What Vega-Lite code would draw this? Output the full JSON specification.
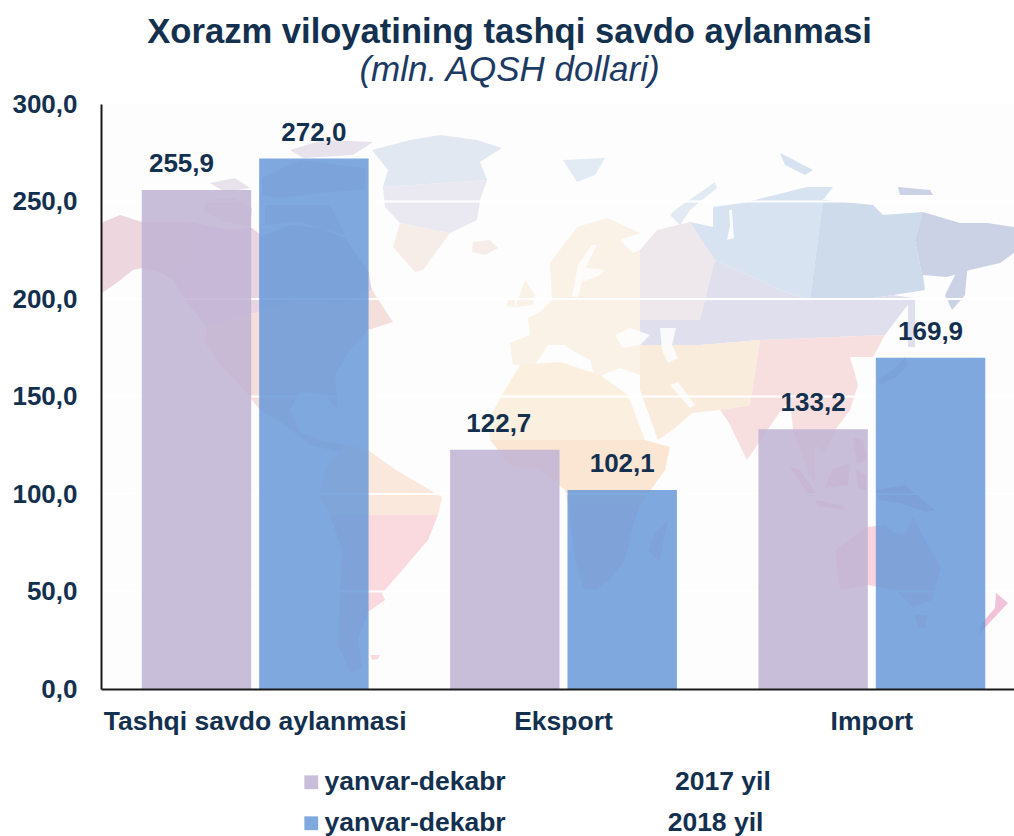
{
"$schema":"https://vega.github.io/schema/vega-lite/v6.json",
"width":913,"height":585,
"autosize":{"type":"none"},
"padding":{"left":101,"top":104,"right":0,"bottom":147},
"background":"white",
"view":{"fill":"#fdfdfd","stroke":null},
"title":{"text":"Xorazm viloyatining tashqi savdo aylanmasi","subtitle":"(mln. AQSH dollari)","anchor":"middle","dx":-48,"offset":2,"font":"Liberation Sans","fontSize":34.6,"fontWeight":"bold","color":"#14304f","subtitleFont":"Liberation Sans","subtitleFontSize":35,"subtitleFontStyle":"italic","subtitleColor":"#1c3a63","subtitlePadding":2},
"datasets":{
"rows":[
{"category":"Tashqi savdo aylanmasi","series":"2017","value":255.9,"label":"255,9"},
{"category":"Tashqi savdo aylanmasi","series":"2018","value":272.0,"label":"272,0"},
{"category":"Eksport","series":"2017","value":122.7,"label":"122,7"},
{"category":"Eksport","series":"2018","value":102.1,"label":"102,1"},
{"category":"Import","series":"2017","value":133.2,"label":"133,2"},
{"category":"Import","series":"2018","value":169.9,"label":"169,9"}
],
"grid":[{"v":50},{"v":100},{"v":150},{"v":200},{"v":250}],
"map":{"type":"FeatureCollection","features":[
{"type":"Feature","properties":{"zone":"alaska"},"geometry":{"type":"Polygon","coordinates":[[[1,477],[20,485],[42,478],[90,478],[100,440],[73,420],[60,428],[42,432],[33,430],[18,418],[2,407],[1,430],[1,477]]]}},
{"type":"Feature","properties":{"zone":"canada"},"geometry":{"type":"Polygon","coordinates":[[[90,478],[130,470],[152,472],[162,464],[190,475],[220,472],[245,462],[268,430],[272,410],[240,395],[200,400],[130,380],[107,373],[87,397],[73,420],[100,440],[90,478]]]}},
{"type":"Feature","properties":{"zone":"arctic"},"geometry":{"type":"MultiPolygon","coordinates":[[[[105,500],[135,502],[152,492],[150,474],[125,478],[104,488],[105,500]]],[[[110,517],[135,522],[150,512],[125,508],[110,517]]],[[[162,522],[200,540],[265,532],[265,510],[230,508],[180,502],[162,505],[162,522]]],[[[165,495],[230,495],[245,465],[200,478],[165,475],[165,495]]],[[[190,550],[223,560],[273,558],[253,545],[203,542],[190,550]]]]}},
{"type":"Feature","properties":{"zone":"usa"},"geometry":{"type":"Polygon","coordinates":[[[107,373],[130,380],[200,400],[240,395],[272,410],[293,378],[268,370],[250,350],[235,325],[238,290],[225,305],[200,308],[190,290],[200,268],[220,260],[245,255],[240,248],[210,255],[185,275],[160,290],[140,315],[120,335],[105,357],[107,373]]]}},
{"type":"Feature","properties":{"zone":"samN"},"geometry":{"type":"Polygon","coordinates":[[[245,255],[268,250],[296,230],[342,203],[338,185],[230,185],[220,203],[225,230],[245,255]]]}},
{"type":"Feature","properties":{"zone":"samS"},"geometry":{"type":"MultiPolygon","coordinates":[[[[230,185],[338,185],[328,160],[305,133],[282,107],[285,100],[268,88],[258,60],[262,32],[250,28],[238,55],[240,110],[242,150],[230,185]]],[[[270,45],[280,45],[278,41],[272,40],[270,45]]]]}},
{"type":"Feature","properties":{"zone":"greenTop"},"geometry":{"type":"Polygon","coordinates":[[[272,550],[310,560],[340,565],[377,560],[402,552],[380,538],[387,520],[283,513],[288,530],[272,550]]]}},
{"type":"Feature","properties":{"zone":"greenMid"},"geometry":{"type":"Polygon","coordinates":[[[283,513],[387,520],[380,500],[377,480],[350,467],[300,477],[285,493],[283,513]]]}},
{"type":"Feature","properties":{"zone":"greenLow"},"geometry":{"type":"MultiPolygon","coordinates":[[[[300,477],[350,467],[323,430],[315,428],[293,453],[300,477]]],[[[373,458],[390,460],[398,452],[385,445],[372,448],[373,458]]]]}},
{"type":"Feature","properties":{"zone":"europe"},"geometry":{"type":"MultiPolygon","coordinates":[[[[410,357],[430,365],[428,382],[440,388],[452,400],[450,437],[477,473],[507,482],[540,467],[520,460],[533,447],[540,450],[540,330],[540,325],[520,332],[495,322],[490,340],[475,348],[465,355],[448,355],[435,335],[413,335],[410,357]]],[[[425,420],[435,405],[433,395],[415,393],[420,405],[425,420]]],[[[408,402],[415,402],[415,393],[407,394],[408,402]]]]}},
{"type":"Feature","properties":{"zone":"euroRussia"},"geometry":{"type":"Polygon","coordinates":[[[540,450],[557,470],[590,478],[615,440],[600,380],[540,380],[540,450]]]}},
{"type":"Feature","properties":{"zone":"westSiberia"},"geometry":{"type":"MultiPolygon","coordinates":[[[[590,478],[613,473],[613,493],[643,497],[667,503],[707,513],[733,513],[723,500],[710,400],[680,410],[615,440],[590,478]]],[[[680,547],[690,542],[713,530],[705,525],[685,535],[680,547]]]]}},
{"type":"Feature","properties":{"zone":"eastSiberia"},"geometry":{"type":"Polygon","coordinates":[[[723,500],[773,495],[783,485],[823,488],[815,460],[825,410],[793,405],[760,400],[710,400],[723,500]]]}},
{"type":"Feature","properties":{"zone":"farEast"},"geometry":{"type":"MultiPolygon","coordinates":[[[[823,488],[860,477],[887,477],[914,473],[914,447],[900,437],[870,430],[847,423],[823,425],[825,410],[815,460],[823,488]]],[[[860,435],[868,438],[865,405],[852,390],[845,405],[860,435]]],[[[798,513],[830,510],[833,505],[800,505],[798,513]]]]}},
{"type":"Feature","properties":{"zone":"central"},"geometry":{"type":"MultiPolygon","coordinates":[[[[540,380],[600,380],[615,440],[680,410],[710,400],[760,400],[793,405],[813,402],[785,365],[660,360],[600,355],[540,355],[540,380]]],[[[808,400],[815,400],[815,353],[808,353],[808,400]]]]}},
{"type":"Feature","properties":{"zone":"isles"},"geometry":{"type":"MultiPolygon","coordinates":[[[[575,490],[615,518],[617,512],[590,490],[580,475],[570,485],[575,490]]],[[[463,540],[505,542],[495,525],[477,518],[463,540]]]]}},
{"type":"Feature","properties":{"zone":"mideast"},"geometry":{"type":"Polygon","coordinates":[[[540,355],[600,355],[660,360],[650,295],[620,290],[592,287],[575,272],[558,260],[540,310],[540,325],[540,355]]]}},
{"type":"Feature","properties":{"zone":"southAsia"},"geometry":{"type":"Polygon","coordinates":[[[660,360],[785,365],[773,343],[750,343],[758,315],[750,290],[735,270],[725,247],[715,255],[715,215],[708,230],[693,270],[690,300],[679,287],[647,240],[629,277],[620,290],[650,295],[660,360]]]}},
{"type":"Feature","properties":{"zone":"japan"},"geometry":{"type":"Polygon","coordinates":[[[805,343],[808,335],[795,322],[780,315],[778,320],[795,332],[805,343]]]}},
{"type":"Feature","properties":{"zone":"africaN"},"geometry":{"type":"Polygon","coordinates":[[[405,310],[420,335],[460,338],[500,325],[528,305],[545,260],[390,260],[388,280],[405,310]]]}},
{"type":"Feature","properties":{"zone":"africaM"},"geometry":{"type":"Polygon","coordinates":[[[390,260],[545,260],[570,253],[565,230],[540,195],[468,195],[465,210],[440,230],[410,235],[390,260]]]}},
{"type":"Feature","properties":{"zone":"africaS"},"geometry":{"type":"MultiPolygon","coordinates":[[[[468,195],[540,195],[532,170],[525,140],[510,120],[495,110],[483,112],[475,140],[468,195]]],[[[568,180],[559,138],[548,150],[555,167],[568,180]]]]}},
{"type":"Feature","properties":{"zone":"indonesia"},"geometry":{"type":"MultiPolygon","coordinates":[[[[690,233],[700,230],[717,205],[710,203],[690,233]]],[[[732,230],[750,237],[748,215],[725,212],[732,230]]],[[[716,200],[744,194],[745,190],[717,194],[716,200]]],[[[756,230],[766,225],[766,210],[758,212],[756,230]]],[[[776,210],[805,215],[835,190],[825,188],[800,197],[780,200],[776,210]]],[[[753,263],[763,260],[767,240],[757,237],[753,263]]]]}},
{"type":"Feature","properties":{"zone":"australia"},"geometry":{"type":"MultiPolygon","coordinates":[[[[735,150],[767,173],[785,175],[793,168],[805,165],[813,183],[825,160],[841,133],[832,100],[813,93],[795,110],[768,115],[740,110],[735,150]]],[[[815,85],[828,85],[825,72],[818,72],[815,85]]]]}},
{"type":"Feature","properties":{"zone":"nz"},"geometry":{"type":"Polygon","coordinates":[[[896,107],[908,97],[892,80],[878,65],[882,77],[895,92],[896,107]]]}},
{"type":"Feature","properties":{"zone":"sea"},"geometry":{"type":"MultiPolygon","coordinates":[[[[515,365],[530,372],[550,365],[540,355],[522,352],[515,365]]],[[[560,372],[576,372],[572,355],[578,342],[568,337],[562,350],[560,372]]],[[[492,455],[497,455],[486,432],[505,430],[498,424],[482,418],[478,403],[472,403],[478,435],[492,455]]],[[[629,490],[632,490],[634,462],[627,460],[630,475],[629,490]]],[[[570,315],[590,292],[595,295],[578,318],[570,315]]]]}}
]}
},
"layer":[
{"data":{"name":"map","format":{"type":"json","property":"features"}},
 "mark":{"type":"geoshape","clip":true,"stroke":null,"opacity":0.9},
 "projection":{"type":"identity","reflectY":true,"scale":1,"translate":[-1,596]},
 "encoding":{"color":{"field":"properties.zone","type":"nominal","legend":null,"scale":{
  "domain":["alaska","canada","arctic","usa","samN","samS","greenTop","greenMid","greenLow","europe","euroRussia","westSiberia","eastSiberia","farEast","central","isles","mideast","southAsia","japan","africaN","africaM","africaS","indonesia","australia","nz","sea"],
  "range":["#ebd2da","#e6d0de","#e4dfea","#f3dcd8","#f9e6d8","#fad5dc","#dfe5f0","#e8e6ee","#f5ebe6","#f9efe4","#ece6ea","#d3e0ef","#c9d7e9","#c5cde3","#dddcec","#dfe8f3","#f9ead9","#f6dbdb","#e6cfe0","#fbeedd","#fbe3cf","#f9dcd0","#eec4d4","#f9cfd8","#eebdd6","#fdfdfd"]}}}},
{"data":{"name":"grid"},"mark":{"type":"rule","color":"white","strokeWidth":2},"encoding":{"y":{"field":"v","type":"quantitative","scale":{"domain":[0,300]},
   "axis":{"title":null,"values":[0,50,100,150,200,250,300],"labelExpr":"replace(format(datum.value,'.1f'),'.',',')","labelFont":"Liberation Sans","labelFontSize":26,"labelFontWeight":"bold","labelColor":"#14304f","labelPadding":24,"ticks":false,"domainColor":"#1a1a1a","domainWidth":2,"grid":false,"zindex":1}}}},
{"data":{"name":"rows"},"mark":{"type":"bar","opacity":0.85},
 "encoding":{
  "x":{"field":"category","type":"nominal","sort":null,"scale":{"domain":["Tashqi savdo aylanmasi","Eksport","Import"],"range":[0,925],"paddingInner":0,"paddingOuter":0},
   "axis":{"title":null,"labelAngle":0,"labelFont":"Liberation Sans","labelFontSize":26.5,"labelFontWeight":"bold","labelColor":"#14304f","labelPadding":19,"ticks":false,"domainColor":"#1a1a1a","domainWidth":2,"grid":false,"zindex":1,"labelLimit":400}},
  "xOffset":{"field":"series","type":"nominal","sort":null,"scale":{"domain":["2017","2018"],"paddingInner":0.068,"paddingOuter":0.347}},
  "y":{"field":"value","type":"quantitative"},
  "color":{"field":"series","type":"nominal","sort":null,"scale":{"domain":["2017","2018"],"range":["#bfb3d3","#6999d8"]},
   "legend":{"title":null,"orient":"none","legendX":197,"legendY":665,"direction":"vertical","symbolType":"square","symbolSize":190,"symbolOpacity":0.85,"symbolStrokeWidth":0,"labelFont":"Liberation Sans","labelFontSize":26.5,"labelFontWeight":"bold","labelColor":"#14304f","labelLimit":700,"labelOffset":0,"rowPadding":14,
    "labelExpr":"datum.label=='2017' ? 'yanvar-dekabr\u00a0\u00a0\u00a0\u00a0\u00a0\u00a0\u00a0\u00a0\u00a0\u00a0\u00a0\u00a0\u00a0\u00a0\u00a0\u00a0\u00a0\u00a0\u00a0\u00a0\u00a0\u00a0\u00a02017 yil' : 'yanvar-dekabr\u00a0\u00a0\u00a0\u00a0\u00a0\u00a0\u00a0\u00a0\u00a0\u00a0\u00a0\u00a0\u00a0\u00a0\u00a0\u00a0\u00a0\u00a0\u00a0\u00a0\u00a0\u00a02018 yil'"}}
 }},
{"data":{"name":"rows"},"transform":[{"filter":"datum.label!='255,9' && datum.label!='122,7'"}],"mark":{"type":"text","font":"Liberation Sans","fontSize":26,"fontWeight":"bold","color":"#14304f","dy":-26},
 "encoding":{"x":{"field":"category","type":"nominal","sort":null},"xOffset":{"field":"series","type":"nominal","sort":null},"y":{"field":"value","type":"quantitative"},"text":{"field":"label"}}},
{"data":{"name":"rows"},"transform":[{"filter":"datum.label=='255,9'"}],"mark":{"type":"text","font":"Liberation Sans","fontSize":26,"fontWeight":"bold","color":"#14304f","dy":-26,"dx":-15},
 "encoding":{"x":{"field":"category","type":"nominal","sort":null},"xOffset":{"field":"series","type":"nominal","sort":null},"y":{"field":"value","type":"quantitative"},"text":{"field":"label"}}},
{"data":{"name":"rows"},"transform":[{"filter":"datum.label=='122,7'"}],"mark":{"type":"text","font":"Liberation Sans","fontSize":26,"fontWeight":"bold","color":"#14304f","dy":-26,"dx":-6},
 "encoding":{"x":{"field":"category","type":"nominal","sort":null},"xOffset":{"field":"series","type":"nominal","sort":null},"y":{"field":"value","type":"quantitative"},"text":{"field":"label"}}}
],
"resolve":{"scale":{"color":"independent"}}
}
